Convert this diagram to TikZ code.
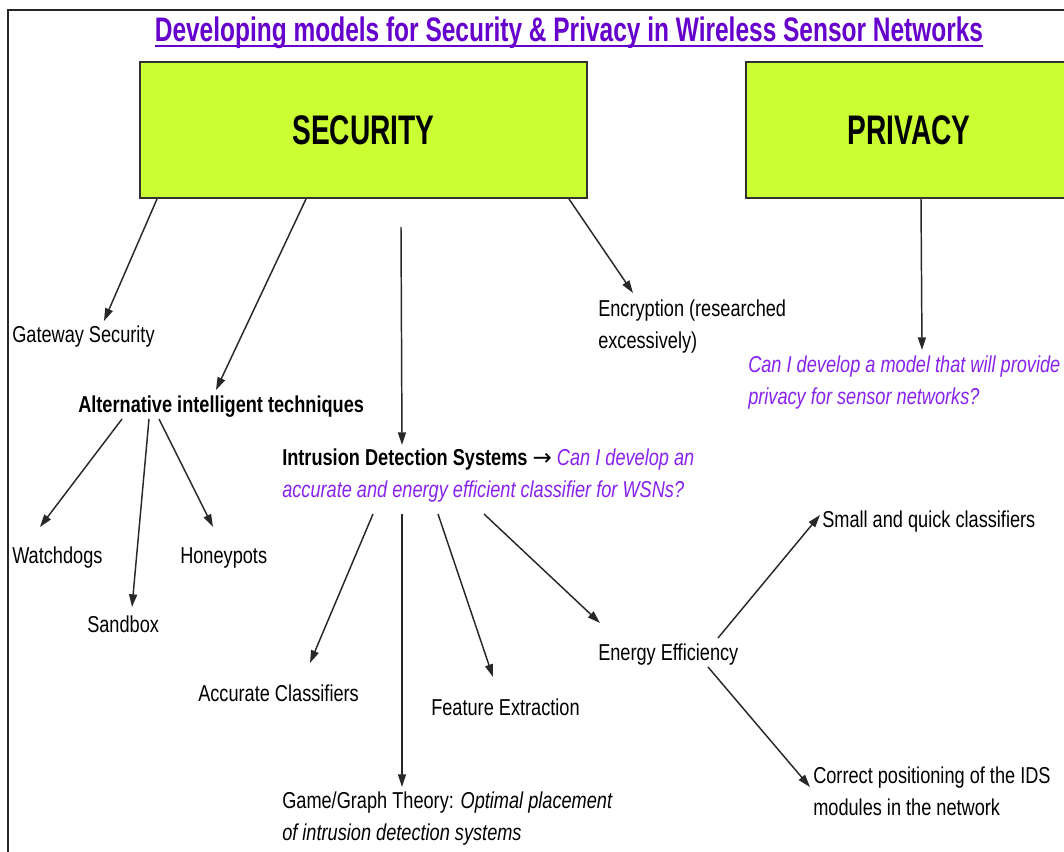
\documentclass[tikz,border=0pt]{standalone}
\usepackage{fontspec}
\setmainfont{Liberation Sans}[FakeStretch=0.79]
\newfontfamily\titlefont{Liberation Sans}[FakeStretch=0.72]
\newfontfamily\boxfont{Liberation Sans}[FakeStretch=0.68]
\newfontfamily\arrowfont{DejaVu Sans}
\usetikzlibrary{calc}
\usetikzlibrary{arrows.meta}

\definecolor{boxlime}{RGB}{204,255,51}
\definecolor{boxline}{RGB}{50,50,50}
\definecolor{titlepurple}{RGB}{102,0,204}
\definecolor{askpurple}{RGB}{136,34,238}
\definecolor{arrowgray}{RGB}{40,40,40}

\tikzset{
  topicbox/.style={draw=boxline, fill=boxlime, line width=1.5pt, minimum height=102pt,
    inner sep=0pt, font=\boxfont\bfseries\fontsize{31}{36}\selectfont},
  leaf/.style={inner sep=0pt, anchor=base west, align=left, font=\fontsize{17.25}{24}\selectfont},
  leafbold/.style={leaf, font=\bfseries\fontsize{17.25}{24}\selectfont},
  ask/.style={leaf, text=askpurple, font=\itshape\fontsize{17.25}{24}\selectfont},
  link/.style={draw=arrowgray, line width=1.1pt, -{Triangle[length=9.5pt,width=6pt]}},
}

\begin{document}
\begin{tikzpicture}[x=0.75pt, y=-0.75pt]
	\useasboundingbox (0,0) rectangle (1064,852);
	\clip (0,0) rectangle (1064,852);
	\draw[line width=1.5pt, black!85] (8,852) |- (1064,10);

	% heading
	\node[anchor=base, inner sep=0pt, text=titlepurple, font=\titlefont\bfseries\fontsize{25.5}{30}\selectfont]
	  (title) at (569,42) {Developing models for Security \& Privacy in Wireless Sensor Networks};
	\draw[titlepurple, line width=1.5pt] ($(title.base west)+(0,4)$) -- ($(title.base east)+(0,4)$);

	% the two topics
	\node[topicbox, minimum width=335.25pt] (sec) at (363.5,130) {SECURITY};
	\node[topicbox, minimum width=244.5pt] (priv) at (909,130) {PRIVACY};

	% security branch (multi-line nodes sit on their last line)
	\node[leaf] (gw) at (12,343) {Gateway Security};
	\node[leafbold] (alt) at (78,412) {Alternative intelligent techniques};
	\node[leaf] (enc) at (598,349) {Encryption (researched\\excessively)};
	\node[leaf] (ids) at (282,497) {\textbf{Intrusion Detection Systems} {\arrowfont →} \textcolor{askpurple}{\itshape Can I develop an}\\
	  \textcolor{askpurple}{\itshape accurate and energy efficient classifier for WSNs?}};
	\node[leaf] (watch) at (12,563) {Watchdogs};
	\node[leaf] (honey) at (180,563) {Honeypots};
	\node[leaf] (sand) at (87,632) {Sandbox};
	\node[leaf] (acc) at (198,701) {Accurate Classifiers};
	\node[leaf] (feat) at (431,715) {Feature Extraction};
	\node[leaf] (energy) at (598,660) {Energy Efficiency};
	\node[leaf] (game) at (282,840) {Game/Graph Theory: \textit{Optimal placement}\\\textit{of intrusion detection systems}};
	\node[leaf] (small) at (822,527) {Small and quick classifiers};
	\node[leaf] (correct) at (813,815) {Correct positioning of the IDS\\modules in the network};

	% privacy branch
	\node[ask] (privq) at (748,404) {Can I develop a model that will provide\\privacy for sensor networks?};

	% connectors
	\draw[link] ($(sec.south west)+(18,0)$) -- ($(gw.base west)+(92,-22)$);
	\draw[link] ($(sec.south west)+(167,0)$) -- ($(alt.base west)+(138,-22)$);
	\draw[link] ($(sec.south west)+(262,28)$) -- ($(ids.base west)+(120,-52)$);
	\draw[link] ($(sec.south west)+(430,0)$) -- ($(enc.base west)+(35,-56)$);
	\draw[link] ($(priv.south west)+(176,0)$) -- ($(privq.base west)+(174,-54)$);
	\draw[link] ($(alt.base west)+(44,7)$) -- ($(watch.base west)+(28,-36)$);
	\draw[link] ($(alt.base west)+(71,7)$) -- ($(sand.base west)+(45,-25)$);
	\draw[link] ($(alt.base west)+(81,7)$) -- ($(honey.base west)+(33,-36)$);
	\draw[link] ($(ids.base west)+(91,17)$) -- ($(acc.base west)+(112,-38)$);
	\draw[link] ($(ids.base west)+(120,17)$) -- ($(game.base west)+(120,-53)$);
	\draw[link] ($(ids.base west)+(156,17)$) -- ($(feat.base west)+(62,-38)$);
	\draw[link] ($(ids.base west)+(202,17)$) -- ($(energy.base west)+(2,-37)$);
	\draw[link] ($(energy.base west)+(120,-22)$) -- ($(small.base west)+(-2,-12)$);
	\draw[link] ($(energy.base west)+(110,7)$) -- ($(correct.base west)+(-3,-28)$);
\end{tikzpicture}
\end{document}
